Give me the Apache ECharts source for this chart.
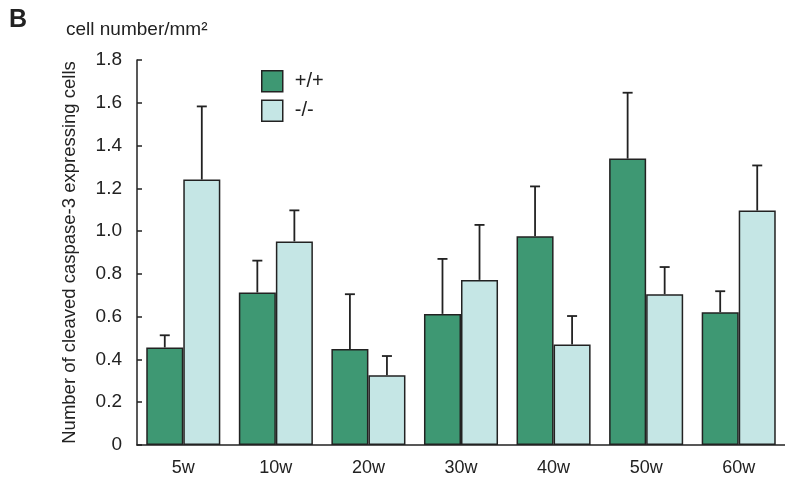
<!DOCTYPE html>
<html>
<head>
<meta charset="utf-8">
<script src="https://cdn.jsdelivr.net/npm/echarts@6/dist/echarts.min.js"></script>
<style>
  html, body { margin: 0; padding: 0; background: #fff; }
  #chart { width: 785px; height: 477px; }
</style>
</head>
<body>
<div id="chart"></div>
<script>
// values
const categories = ["5w", "10w", "20w", "30w", "40w", "50w", "60w"];
const wtMean = [0.456, 0.713, 0.449, 0.613, 0.976, 1.339, 0.621];
const wtErr  = [0.057, 0.149, 0.256, 0.257, 0.233, 0.308, 0.098];
const koMean = [1.241, 0.952, 0.326, 0.772, 0.470, 0.705, 1.096];
const koErr  = [0.342, 0.145, 0.090, 0.257, 0.133, 0.127, 0.211];
const yTicks = [0, 0.2, 0.4, 0.6, 0.8, 1.0, 1.2, 1.4, 1.6, 1.8];

const font = "'Liberation Sans', Arial, sans-serif";
const ink = "#222";
const green = "#3e9873";
const pale = "#c5e6e5";

const chart = echarts.init(document.getElementById("chart"));

// error bar drawn above each bar; side = -1 for left bar, +1 for right bar
function errorSeries(name, means, errs, side) {
  return {
    type: "custom",
    name: name + " err",
    z: 1,
    silent: true,
    data: means.map((m, i) => [i, m, m + errs[i]]),
    renderItem(params, api) {
      const base = api.coord([api.value(0), api.value(1)]);
      const top = api.coord([api.value(0), api.value(2)]);
      const band = api.size([1, 0])[0];
      const x = base[0] + side * band * 0.2;
      const cap = 5;
      const style = { stroke: ink, lineWidth: 1.8 };
      return {
        type: "group",
        children: [
          { type: "line", shape: { x1: x, y1: base[1], x2: x, y2: top[1] }, style },
          { type: "line", shape: { x1: x - cap, y1: top[1], x2: x + cap, y2: top[1] }, style }
        ]
      };
    }
  };
}

chart.setOption({
  animation: false,
  textStyle: { fontFamily: font, color: ink },
  grid: { left: 137, right: -6, top: 60, bottom: 32 },
  graphic: [
    { type: "text", left: 9, top: 8, style: { text: "B", font: "bold 25px " + font, fill: ink } },
    { type: "text", left: 66, top: 20, style: { text: "cell number/mm\u00b2", font: "19px " + font, fill: ink } }
  ],
  legend: {
    left: 256, top: 65, orient: "vertical",
    icon: "rect",
    itemWidth: 21, itemHeight: 21, itemGap: 7,
    data: ["+/+", "-/-"],
    itemStyle: { borderColor: ink, borderWidth: 1.5 },
    textStyle: { fontSize: 20, lineHeight: 21, color: ink, fontFamily: font, padding: [0, 0, 0, 7] }
  },
  xAxis: {
    type: "category",
    data: categories,
    axisLine: { lineStyle: { color: ink, width: 1.5 } },
    axisTick: { inside: true, length: 5, lineStyle: { color: ink, width: 1.5 } },
    axisLabel: { fontSize: 18, color: ink, margin: 14, fontFamily: font }
  },
  yAxis: {
    type: "value",
    min: yTicks[0],
    max: yTicks[yTicks.length - 1],
    interval: 0.2,
    name: "Number of cleaved caspase-3 expressing cells",
    nameLocation: "middle",
    nameGap: 58,
    nameTextStyle: { fontSize: 18.5, color: ink, fontFamily: font },
    splitLine: { show: false },
    axisLine: { show: true, lineStyle: { color: ink, width: 1.5 } },
    axisTick: { show: true, inside: true, length: 5, lineStyle: { color: ink, width: 1.5 } },
    axisLabel: {
      fontSize: 19, color: ink, margin: 15, fontFamily: font,
      formatter: v => (v === 0 ? "0" : v.toFixed(1))
    }
  },
  series: [
    {
      name: "+/+", type: "bar", data: wtMean, z: 2,
      barWidth: "40%", barGap: "0%",
      itemStyle: { color: green, borderColor: ink, borderWidth: 1.5 }
    },
    {
      name: "-/-", type: "bar", data: koMean, z: 2,
      barWidth: "40%", barGap: "0%",
      itemStyle: { color: pale, borderColor: ink, borderWidth: 1.5 }
    },
    errorSeries("+/+", wtMean, wtErr, -1),
    errorSeries("-/-", koMean, koErr, 1)
  ]
});
</script>
</body>
</html>
